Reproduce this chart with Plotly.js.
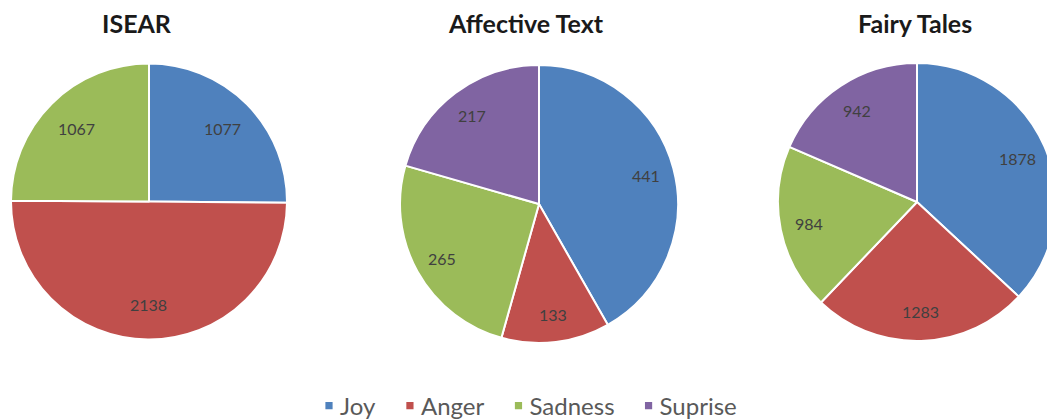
<!DOCTYPE html>
<html>
<head>
<meta charset="utf-8">
<script src="https://cdn.plot.ly/plotly-3.0.1.min.js"></script>
<style>
html,body{margin:0;padding:0;overflow:hidden;background:#fff;}
#chart{width:1060px;height:420px;}
.legend .legendpoints path{transform:translate(29px,0px) scale(0.6);stroke-width:0 !important;}
</style>
</head>
<body>
<div id="chart"></div>
<script>
const categories = ["Joy", "Anger", "Sadness", "Suprise"];
const colors = ["#4F81BD", "#C0504D", "#9BBB59", "#8064A2"];

const isearLabels = ["Joy", "Anger", "Sadness"];
const isearValues = [1077, 2138, 1067];

const affectiveLabels = ["Joy", "Anger", "Sadness", "Suprise"];
const affectiveValues = [441, 133, 265, 217];

const fairyLabels = ["Joy", "Anger", "Sadness", "Suprise"];
const fairyValues = [1878, 1283, 984, 942];

const titles = ["ISEAR", "Affective Text", "Fairy Tales"];

const W = 1060, H = 420;
// pie boxes in pixels: [left, right, top, bottom]
const boxes = [[11, 287, 63, 340], [400, 678, 65, 343], [778, 1056, 63, 341]];
const titleX = [137, 526, 915];
const labelRadius = [0.75, 0.8, 0.79];

function colorFor(labels) { return labels.map(l => colors[categories.indexOf(l)]); }

const sets = [[isearLabels, isearValues], [affectiveLabels, affectiveValues], [fairyLabels, fairyValues]];
const traces = sets.map((s, i) => {
  const b = boxes[i];
  return {
    type: "pie",
    labels: s[0],
    values: s[1],
    domain: {x: [b[0] / W, b[1] / W], y: [1 - b[3] / H, 1 - b[2] / H]},
    sort: false,
    direction: "clockwise",
    rotation: 0,
    textinfo: "none",
    marker: {colors: colorFor(s[0]), line: {color: "#ffffff", width: 2}},
    hoverinfo: "label+value",
    name: titles[i]
  };
});

// value labels placed at each slice's mid-angle
const labelAnns = [];
sets.forEach((s, i) => {
  const b = boxes[i];
  const cx = (b[0] + b[1]) / 2, cy = (b[2] + b[3]) / 2;
  const r = Math.min(b[1] - b[0], b[3] - b[2]) / 2;
  const total = s[1].reduce((a, v) => a + v, 0);
  let cum = 0;
  s[1].forEach(v => {
    const mid = (cum + v / 2) / total;
    cum += v;
    const th = 2 * Math.PI * mid;
    const px = cx + labelRadius[i] * r * Math.sin(th);
    const py = cy - labelRadius[i] * r * Math.cos(th);
    labelAnns.push({
      text: String(v), x: px / W, y: 1 - py / H, xref: "paper", yref: "paper",
      xanchor: "center", yanchor: "middle", showarrow: false,
      font: {family: "Lato, 'Open Sans', sans-serif", size: 16, color: "#404040"}
    });
  });
});

const layout = {
  width: W, height: H,
  margin: {l: 0, r: 0, t: 0, b: 0, autoexpand: false},
  paper_bgcolor: "#ffffff",
  showlegend: true,
  legend: {
    orientation: "h", x: 521 / W, xanchor: "center", y: 1 - 406 / H, yanchor: "middle",
    font: {family: "Lato, 'Open Sans', sans-serif", size: 24, color: "#595959"},
    traceorder: "normal", itemwidth: 30
  },
  annotations: titles.map((t, i) => ({
    text: t, x: titleX[i] / W, y: 1 - 23 / H, xref: "paper", yref: "paper",
    xanchor: "center", yanchor: "middle", showarrow: false,
    font: {family: "Lato, 'Open Sans', sans-serif", size: 25, color: "#1a1a1a", weight: "bold"}
  })).concat(labelAnns)
};

Plotly.newPlot("chart", traces, layout, {displayModeBar: false, staticPlot: true});
</script>
</body>
</html>
